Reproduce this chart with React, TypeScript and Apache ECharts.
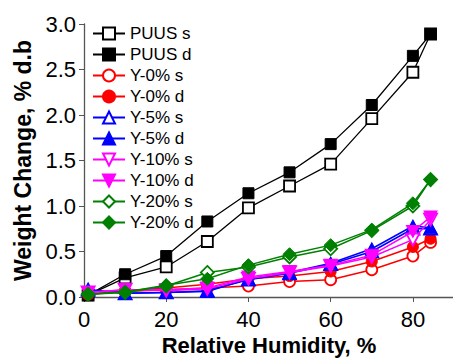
import React, { useEffect, useRef } from "react";
import * as echarts from "echarts";

const rh = [1, 10, 20, 30, 40, 50, 60, 70, 80, 84.3];
const seriesNames = ["PUUS s", "PUUS d", "Y-0% s", "Y-0% d", "Y-5% s", "Y-5% d", "Y-10% s", "Y-10% d", "Y-20% s", "Y-20% d"];
const puusS = [0.02, 0.21, 0.33, 0.61, 0.98, 1.22, 1.46, 1.96, 2.47, 2.89];
const puusD = [0.02, 0.25, 0.45, 0.83, 1.14, 1.37, 1.68, 2.11, 2.65, 2.89];
const y0S = [0.03, 0.06, 0.08, 0.1, 0.12, 0.17, 0.19, 0.3, 0.45, 0.6];
const y0D = [0.03, 0.07, 0.1, 0.14, 0.2, 0.23, 0.28, 0.39, 0.55, 0.64];
const y5S = [0.08, 0.04, 0.05, 0.07, 0.19, 0.26, 0.36, 0.5, 0.75, 0.75];
const y5D = [0.08, 0.04, 0.05, 0.06, 0.2, 0.27, 0.37, 0.53, 0.78, 0.76];
const y10S = [0.05, 0.08, 0.07, 0.09, 0.2, 0.27, 0.34, 0.44, 0.63, 0.85];
const y10D = [0.05, 0.08, 0.08, 0.1, 0.22, 0.28, 0.35, 0.46, 0.72, 0.88];
const y20S = [0.03, 0.05, 0.12, 0.27, 0.33, 0.44, 0.53, 0.73, 1.0, 1.29];
const y20D = [0.03, 0.055, 0.13, 0.2, 0.35, 0.47, 0.57, 0.74, 1.03, 1.29];
const xTicks = [0, 20, 40, 60, 80];

const values = [puusS, puusD, y0S, y0D, y5S, y5D, y10S, y10D, y20S, y20D];
const colors = ["#000000", "#000000", "#ff0000", "#ff0000", "#0000ff", "#0000ff", "#ff00ff", "#ff00ff", "#008000", "#008000"];
const downTri = "path://M0,0L20,0L10,18Z";
const symbols = ["rect", "rect", "circle", "circle", "triangle", "triangle", downTri, downTri, "diamond", "diamond"];
const sizes: any[] = [11, 11, 11, 11, [13, 12], [13, 12], [13, 12], [13, 12], [13, 13], [13, 13]];

export default function App() {
  const ref = useRef<HTMLDivElement>(null);
  useEffect(() => {
    if (!ref.current) return;
    const chart = echarts.init(ref.current, undefined, { renderer: "svg" });
    const series = seriesNames.map((name, i) => {
      const open = i % 2 === 0;
      const c = colors[i];
      return {
        name,
        type: "line",
        data: rh.map((x, j) => [x, values[i][j]]),
        symbol: symbols[i],
        symbolSize: sizes[i],
        showSymbol: true,
        lineStyle: { color: c, width: i < 2 ? 1.3 : 1.5 },
        itemStyle: open
          ? { color: "#ffffff", borderColor: c, borderWidth: 1.8 }
          : { color: c, borderColor: c, borderWidth: 1 },
        z: 2 + i,
      };
    });
    chart.setOption({
      animation: false,
      backgroundColor: "#ffffff",
      grid: { left: 84, top: 24, right: -1, bottom: 61, containLabel: false, outerBoundsMode: "none" },
      legend: {
        orient: "vertical",
        left: 87,
        top: 20,
        itemWidth: 32,
        itemHeight: 15,
        itemGap: 4,
        data: seriesNames,
        textStyle: { fontFamily: "Liberation Sans, Arial", fontSize: 17, color: "#000" },
      },
      xAxis: {
        type: "value",
        min: 0,
        max: 90,
        interval: 20,
        name: "Relative Humidity, %",
        nameLocation: "middle",
        nameGap: 35,
        nameTextStyle: { fontFamily: "Liberation Sans, Arial", fontSize: 22, fontWeight: "bold", color: "#000" },
        axisLine: { show: true, onZero: false, lineStyle: { color: "#555", width: 1.3 } },
        axisTick: { show: true, length: 5, lineStyle: { color: "#555" }, customValues: xTicks },
        axisLabel: {
          fontFamily: "Liberation Sans, Arial",
          fontSize: 22,
          color: "#000",
          margin: 11,
          customValues: xTicks,
        },
        splitLine: { show: false },
      },
      yAxis: {
        type: "value",
        min: 0,
        max: 3,
        interval: 0.5,
        name: "Weight Change, % d.b",
        nameLocation: "middle",
        nameGap: 46,
        nameTextStyle: { fontFamily: "Liberation Sans, Arial", fontSize: 23, fontWeight: "bold", color: "#000" },
        axisLine: { show: true, onZero: false, lineStyle: { color: "#555", width: 1.3 } },
        axisTick: { show: true, length: 5, lineStyle: { color: "#555" } },
        axisLabel: {
          fontFamily: "Liberation Sans, Arial",
          fontSize: 22,
          color: "#000",
          margin: 8,
          formatter: (v: number) => v.toFixed(1),
        },
        splitLine: { show: false },
      },
      series,
    });
    return () => chart.dispose();
  }, []);
  return <div ref={ref} style={{ width: 453, height: 358, position: "absolute", left: 0, top: 0 }} />;
}
